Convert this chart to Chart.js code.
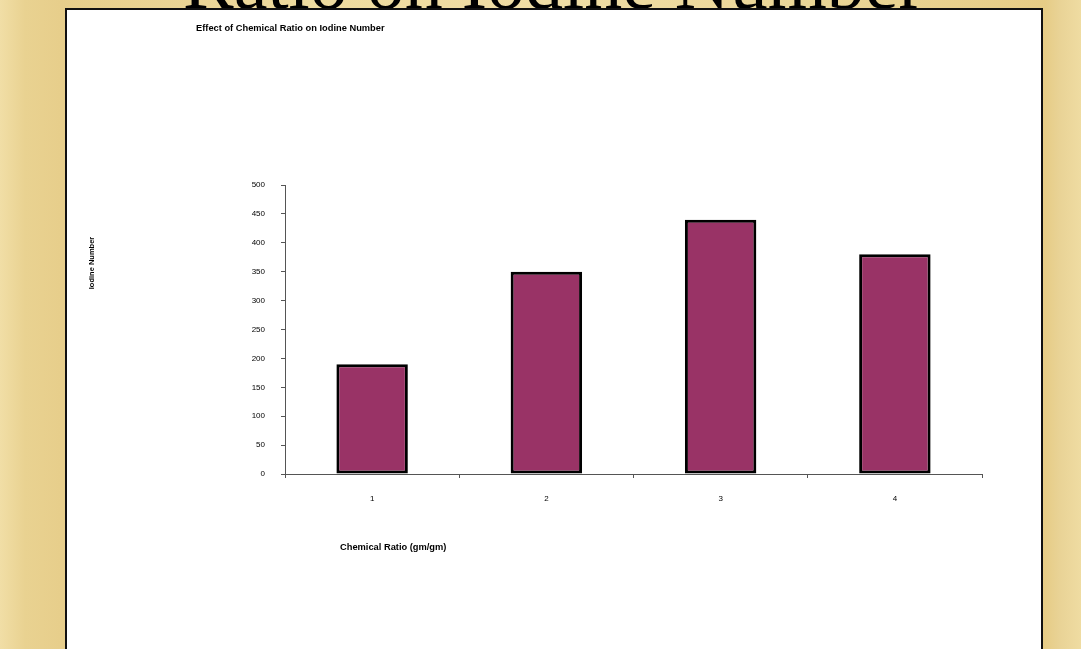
<!DOCTYPE html>
<html>
<head>
<meta charset="utf-8">
<script src="https://cdn.jsdelivr.net/npm/chart.js@4.4.1/dist/chart.umd.min.js"></script>
<style>
  html, body { margin: 0; padding: 0; }
  body {
    width: 1081px; height: 649px; overflow: hidden; position: relative;
    background: linear-gradient(to right, #f1dea6 0px, #e9d291 25px, #e7ce8b 60px, #eedb9f 300px, #f0dea6 560px, #ead595 850px, #e6cc86 1045px, #e9d396 1060px, #efdca2 1081px);
  }
  #slideTitle {
    position: absolute; left: 13px; top: -56px; width: 1081px;
    text-align: center; font: 76px/76px "Liberation Serif", "Times New Roman", serif;
    color: #000; white-space: nowrap;
  }
  #panel {
    position: absolute; left: 65px; top: 8px; width: 974px; height: 660px;
    background: #fff; border: 2px solid #111;
  }
  #wrap { position: absolute; left: 0; top: 0; width: 974px; height: 639px; }
</style>
</head>
<body>
<div id="slideTitle">Ratio on Iodine Number</div>
<div id="panel">
  <div id="wrap"><canvas id="barChart"></canvas></div>
</div>
<script>
// Chart data
const chartTitle = 'Effect of Chemical Ratio on Iodine Number';
const xTitle = 'Chemical Ratio (gm/gm)';
const yTitle = 'Iodine Number';
const categories = ['1', '2', '3', '4'];
const iodineValues = [190, 350, 440, 380];
const yMin = 0;
const yMax = 500;
const yStep = 50;

// titles sit where Excel put them, not centred on the axes
const freeText = {
    id: 'freeText',
    afterDraw(chart) {
        const { ctx, chartArea } = chart;
        ctx.save();
        ctx.fillStyle = '#000';
        ctx.textBaseline = 'middle';
        ctx.font = 'bold 9.3px "Liberation Sans", Arial, sans-serif';
        ctx.textAlign = 'left';
        ctx.fillText(chartTitle, chartArea.left - 89, chartArea.top - 157);
        ctx.fillText(xTitle, chartArea.left + 55, chartArea.bottom + 73);

        // y title, rotated
        ctx.font = 'bold 7.5px "Liberation Sans", Arial, sans-serif';
        ctx.textAlign = 'center';
        ctx.translate(chartArea.left - 193, chartArea.top + 78);
        ctx.rotate(-Math.PI / 2);
        ctx.fillText(yTitle, 0, 0);
        ctx.restore();
    }
};

const ctx = document.getElementById('barChart').getContext('2d');
new Chart(ctx, {
    type: 'bar',
    data: {
        labels: categories,
        datasets: [{
            data: iodineValues,
            backgroundColor: '#993366',
            borderColor: '#000',
            borderWidth: 3,
            borderSkipped: false,
            barPercentage: 0.41,
            categoryPercentage: 1
        }]
    },
    options: {
        responsive: true,
        maintainAspectRatio: false,
        animation: false,
        layout: { padding: { left: 16, right: 59, top: 175, bottom: 115 } },
        plugins: {
            legend: { display: false },
            tooltip: { enabled: false }
        },
        scales: {
            x: {
                afterFit: (scale) => { scale.height = 60; },
                grid: { drawOnChartArea: false, drawTicks: true, tickLength: 4, color: '#555', offset: true },
                border: { display: true, color: '#555', width: 1 },
                ticks: { color: '#000', padding: 16, font: { family: '"Liberation Sans", Arial, sans-serif', size: 8 } }
            },
            y: {
                min: yMin,
                max: yMax,
                afterFit: (scale) => { scale.width = 202; },
                grid: { drawOnChartArea: false, drawTicks: true, tickLength: 4, color: '#555' },
                border: { display: true, color: '#555', width: 1 },
                ticks: { stepSize: yStep, color: '#000', padding: 16, font: { family: '"Liberation Sans", Arial, sans-serif', size: 8 } }
            }
        }
    },
    plugins: [freeText]
});
</script>
</body>
</html>
